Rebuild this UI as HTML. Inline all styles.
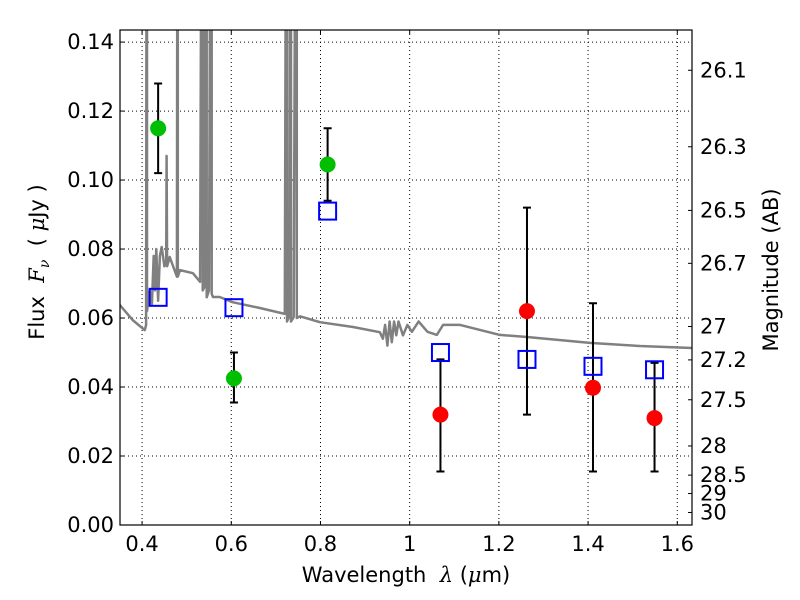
<!DOCTYPE html>
<html><head><meta charset="utf-8"><style>
body{margin:0;background:#fff;}
svg{display:block;font-family:"DejaVu Sans","Liberation Sans",sans-serif;}
</style></head><body>
<svg id="c" width="800" height="600"></svg>
<script>
const specLam=[0.350,0.379,0.406,0.409,0.411,0.411,0.417,0.422,0.426,0.429,0.432,0.436,0.440,0.444,0.450,0.454,0.455,0.456,0.462,0.478,0.480,0.480,0.485,0.514,0.530,0.536,0.536,0.540,0.545,0.545,0.550,0.556,0.556,0.559,0.574,0.603,0.664,0.720,0.725,0.725,0.730,0.734,0.734,0.740,0.747,0.747,0.754,0.799,0.873,0.933,0.940,0.945,0.950,0.955,0.960,0.965,0.970,0.975,0.985,0.995,1.005,1.020,1.040,1.061,1.075,1.113,1.202,1.263,1.404,1.516,1.633];
const specFlux=[0.0638,0.0594,0.0565,0.0580,0.30,0.062,0.068,0.064,0.078,0.068,0.080,0.065,0.078,0.0806,0.075,0.076,0.107,0.075,0.0777,0.072,0.30,0.072,0.0739,0.0730,0.0705,0.30,0.068,0.0690,0.30,0.066,0.0680,0.30,0.067,0.0661,0.0661,0.0646,0.0629,0.0612,0.30,0.059,0.0605,0.30,0.059,0.0603,0.30,0.060,0.0605,0.0588,0.0574,0.0559,0.054,0.058,0.052,0.059,0.053,0.059,0.055,0.059,0.055,0.058,0.056,0.059,0.056,0.0551,0.0580,0.0580,0.0551,0.0545,0.0528,0.0519,0.0513];
const obsLam=[0.436,0.606,0.816];
const obsFlux=[0.115,0.0425,0.1045];
const obsLo=[0.102,0.0355,0.094];
const obsHi=[0.128,0.050,0.115];
const irLam=[1.069,1.263,1.411,1.549];
const irFlux=[0.032,0.062,0.0398,0.031];
const irLo=[0.0155,0.032,0.0155,0.0155];
const irHi=[0.048,0.092,0.0643,0.047];
const modLam=[0.436,0.606,0.816,1.069,1.263,1.411,1.549];
const modFlux=[0.066,0.063,0.091,0.050,0.048,0.046,0.045];
const xTicks=[0.4,0.6,0.8,1.0,1.2,1.4,1.6];
const xTickLabels=["0.4","0.6","0.8","1","1.2","1.4","1.6"];
const yTicks=[0,0.02,0.04,0.06,0.08,0.10,0.12,0.14];
const yTickLabels=["0.00","0.02","0.04","0.06","0.08","0.10","0.12","0.14"];
const magTicks=[26.1,26.3,26.5,26.7,27,27.2,27.5,28,28.5,29,30];
const magLabels=["26.1","26.3","26.5","26.7","27","27.2","27.5","28","28.5","29","30"];

const L=120,R=692,T=30,B=525,X0=0.3505,X1=1.633,Y0=0,Y1=0.1435;
const sx=v=>L+(v-X0)/(X1-X0)*(R-L);
const sy=v=>B-(v-Y0)/(Y1-Y0)*(B-T);
const svg=document.getElementById('c');
const NS='http://www.w3.org/2000/svg';
function mk(tag,at,parent){const e=document.createElementNS(NS,tag);for(const k in at)e.setAttribute(k,at[k]);(parent||svg).appendChild(e);return e;}
const defs=mk('defs',{});
const cp=mk('clipPath',{id:'clip'},defs);mk('rect',{x:L,y:T,width:R-L,height:B-T},cp);

xTicks.forEach((v,i)=>{
 let g=mk('line',{x1:sx(v),x2:sx(v),y1:T,y2:B,stroke:'#000','stroke-width':1,'stroke-dasharray':'1,3'});
 
 
 let t=mk('line',{x1:sx(v),x2:sx(v),y1:B,y2:B-4,stroke:'#000'});
 
 
 let t2=mk('line',{x1:sx(v),x2:sx(v),y1:T,y2:T+4,stroke:'#000'});
 
 
 let tx=mk('text',{x:sx(v),y:B+26,'text-anchor':'middle','font-size':21});tx.textContent=xTickLabels[i];
 
 
});
yTicks.forEach((v,i)=>{
 let g=mk('line',{x1:L,x2:R,y1:sy(v),y2:sy(v),stroke:'#000','stroke-width':1,'stroke-dasharray':'1,3'});
 
 
 let t=mk('line',{x1:L,x2:L+4,y1:sy(v),y2:sy(v),stroke:'#000'});
 
 
 let tx=mk('text',{x:L-6,y:sy(v)+7,'text-anchor':'end','font-size':21});tx.textContent=yTickLabels[i];
 
 
});
magTicks.forEach((m,i)=>{
 const f=Math.pow(10,(23.9-m)/2.5);
 let t=mk('line',{x1:R,x2:R-4,y1:sy(f),y2:sy(f),stroke:'#000'});
 
 
 let tx=mk('text',{x:R+8,y:sy(f)+7,'font-size':21});tx.textContent=magLabels[i];
 
 
});

const gc=mk('g',{'clip-path':'url(#clip)'});
let d=specLam.map((v,i)=>(i?'L':'M')+sx(v).toFixed(1)+','+sy(specFlux[i]).toFixed(1)).join('');
let sp=mk('path',{d:d,fill:'none',stroke:'#808080','stroke-width':2.5,'stroke-linejoin':'round'},gc);



function errbar(x,lo,hi){
 const X=sx(x);
 let e=mk('path',{d:`M${X},${sy(lo)}L${X},${sy(hi)}M${X-4},${sy(lo)}L${X+4},${sy(lo)}M${X-4},${sy(hi)}L${X+4},${sy(hi)}`,stroke:'#000','stroke-width':2,fill:'none'},gc);
 
 
}
obsLam.forEach((v,i)=>{errbar(v,obsLo[i],obsHi[i]);
 let c=mk('circle',{cx:sx(v),cy:sy(obsFlux[i]),r:8,fill:'#00bf00'},gc);
 
 });
irLam.forEach((v,i)=>{errbar(v,irLo[i],irHi[i]);
 let c=mk('circle',{cx:sx(v),cy:sy(irFlux[i]),r:8,fill:'#ff0000'},gc);
 
 });
modLam.forEach((v,i)=>{
 let s=mk('rect',{x:sx(v)-8.5,y:sy(modFlux[i])-8.5,width:17,height:17,fill:'none',stroke:'#0000ff','stroke-width':2},gc);
 
 });

let fr=mk('rect',{x:L,y:T,width:R-L,height:B-T,fill:'none',stroke:'#000','stroke-width':1.2});



let xl=mk('text',{x:406,y:582,'text-anchor':'middle','font-size':21});
xl.innerHTML='Wavelength &#160;<tspan font-style="italic" font-family="DejaVu Serif">λ</tspan> (<tspan font-style="italic" font-family="DejaVu Serif">μ</tspan>m)';


let yl=mk('text',{x:0,y:0,'text-anchor':'middle','font-size':21,transform:'translate(44,262) rotate(-90)'});
yl.innerHTML='Flux &#160;<tspan font-style="italic" font-family="DejaVu Serif">F</tspan><tspan font-style="italic" font-size="14" dy="5" font-family="DejaVu Serif">ν</tspan><tspan dy="-5"> &#160;( <tspan font-style="italic" font-family="DejaVu Serif">μ</tspan>Jy )</tspan>';


let ml=mk('text',{x:0,y:0,'text-anchor':'middle','font-size':21,transform:'translate(778,270) rotate(-90)'});
ml.textContent='Magnitude (AB)';


</script>
</body></html>
